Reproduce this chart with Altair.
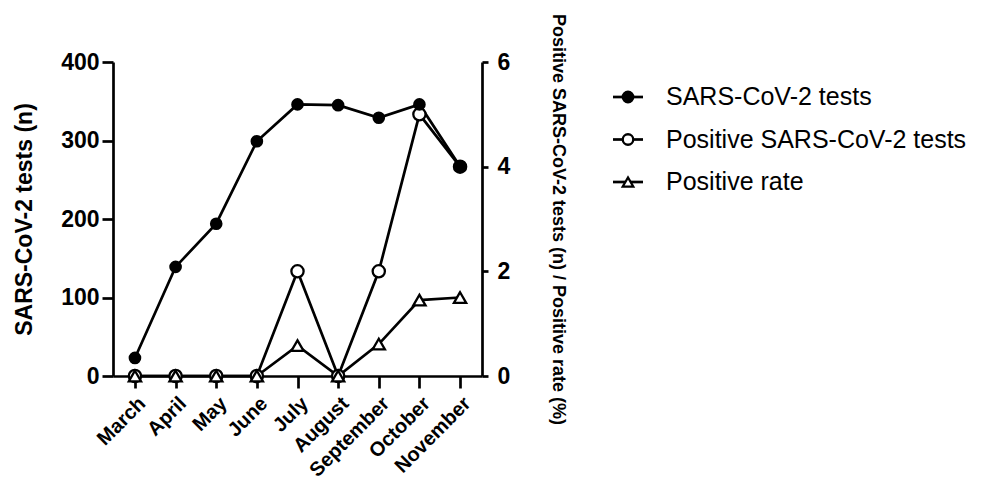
import altair as alt
import pandas as pd

months = ["March", "April", "May", "June", "July", "August", "September", "October", "November"]
tests = [23, 139, 194, 299, 346, 345, 329, 346, 267]
positive = [0, 0, 0, 0, 2, 0, 2, 5, 4]
rate = [0, 0, 0, 0, 0.58, 0, 0.61, 1.45, 1.5]
series_names = ["SARS-CoV-2 tests", "Positive SARS-CoV-2 tests", "Positive rate"]

FONT = "Liberation Sans"
df = pd.DataFrame({"month": months, "tests": tests, "positive": positive, "rate": rate})

xenc = alt.X("month:N", sort=months, scale=alt.Scale(type="point", padding=0.54),
             axis=alt.Axis(title=None, labelAngle=-45, labelFontSize=20, labelFontWeight="bold",
                           labelFont=FONT, labelColor="black", tickSize=12, tickWidth=2.7,
                           domainWidth=2.7, domainColor="black", tickColor="black",
                           labelPadding=5, grid=False))

base = alt.Chart(df).encode(x=xenc)

left_axis = alt.Axis(title="SARS-CoV-2 tests (n)", values=[0, 100, 200, 300, 400],
                     titleFontSize=23, titleFont=FONT, titleFontWeight="bold", titleColor="black",
                     labelFontSize=23, labelFont=FONT, labelFontWeight="bold", labelColor="black",
                     tickSize=11, tickWidth=2.7, domainWidth=2.7, domainColor="black",
                     tickColor="black", grid=False, titlePadding=24, labelPadding=3)
right_axis = alt.Axis(title="Positive SARS-CoV-2 tests (n) / Positive rate (%)", orient="right",
                      values=[0, 2, 4, 6], titleAngle=90,
                      titleFontSize=18, titleFont=FONT, titleFontWeight="bold", titleColor="black",
                      labelFontSize=23, labelFont=FONT, labelFontWeight="bold", labelColor="black",
                      tickSize=6, tickWidth=2.7, domainWidth=2.7, domainColor="black",
                      tickColor="black", grid=False, titlePadding=39, labelPadding=9)

left_scale = alt.Scale(domain=[0, 400], nice=False)
left_line = base.mark_line(color="black", strokeWidth=2.7).encode(
    y=alt.Y("tests:Q", scale=left_scale, axis=left_axis))
left_pts = base.mark_point(shape="circle", filled=True, color="black", size=160, opacity=1).encode(
    y=alt.Y("tests:Q", scale=left_scale, axis=None))

ry_scale = alt.Scale(domain=[0, 6], nice=False)
right = alt.layer(
    base.mark_line(color="black", strokeWidth=2.7).encode(y=alt.Y("positive:Q", scale=ry_scale, axis=right_axis)),
    base.mark_line(color="black", strokeWidth=2.7).encode(y=alt.Y("rate:Q", scale=ry_scale)),
    base.mark_point(shape="circle", fill="white", stroke="black", strokeWidth=2.3, size=150, opacity=1
                    ).encode(y=alt.Y("positive:Q", scale=ry_scale)),
    base.mark_point(shape="triangle-up", fill="white", stroke="black", strokeWidth=2.3, size=150, opacity=1
                    ).encode(y=alt.Y("rate:Q", scale=ry_scale)),
)

main = alt.layer(left_line, right, left_pts).resolve_scale(y="independent").properties(width=369, height=314)

leg_df = pd.DataFrame({"name": series_names, "shape": ["circle", "circle", "triangle-up"],
                       "fill": ["black", "white", "white"]})
ly_leg = alt.Y("name:N", sort=series_names, axis=None,
               scale=alt.Scale(type="point", range=[35, 120], padding=0))
lbase = alt.Chart(leg_df).encode(y=ly_leg)
legend = alt.layer(
    lbase.mark_rule(color="black", strokeWidth=2.7).encode(x=alt.value(0), x2=alt.value(30)),
    lbase.mark_point(stroke="black", strokeWidth=2.3, size=110, opacity=1).encode(
        x=alt.value(15),
        shape=alt.Shape("shape:N", scale=None),
        fill=alt.Fill("fill:N", scale=None)),
    lbase.mark_text(align="left", baseline="middle", fontSize=25, font=FONT, color="black").encode(
        x=alt.value(53), text="name:N"),
).properties(width=320, height=314)

chart = alt.hconcat(main, legend, spacing=44).configure(
    font=FONT).configure_view(strokeWidth=0, stroke="transparent").properties(
    padding={"left": 5, "top": 5, "right": 0, "bottom": 0})

chart.save("out.html", embed_options={"renderer": "svg", "actions": False})
